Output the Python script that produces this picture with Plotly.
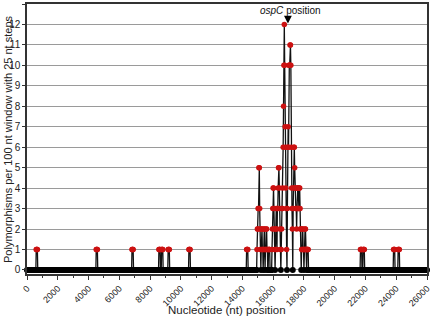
import plotly.graph_objects as go

# window starts (nt) with 25 nt steps across the plotted region
step = 25
window_end = 26000

# nonzero windows: (window start, polymorphism count)
nonzero_windows = [
    600, 625, 650, 675,
    4500, 4525, 4550, 4575,
    6825, 6850, 6875, 6900,
    8575, 8600, 8625, 8650,
    8750, 8775, 8800, 8825,
    9175, 9200, 9225, 9250,
    10525, 10550, 10575, 10600,
    14275, 14300, 14325, 14350,
    14950, 14975, 15000, 15025, 15050, 15075, 15100, 15125, 15150, 15175,
    15225, 15250, 15275, 15300, 15325,
    15375, 15400, 15425, 15450,
    15500, 15525, 15550, 15575, 15600, 15625,
    15700, 15725, 15750, 15775,
    15925, 15950, 15975, 16000, 16025, 16050, 16075, 16100,
    16150, 16175, 16200, 16225, 16250, 16275, 16300, 16325, 16350, 16375,
    16400, 16425, 16450, 16475,
    16525, 16550, 16575, 16600, 16625, 16650, 16675, 16700, 16725, 16750,
    16775, 16800, 16825, 16850, 16875,
    16925, 16950, 16975, 17000, 17025, 17050, 17075, 17100, 17125, 17150,
    17175, 17200, 17225, 17250,
    17300, 17325, 17350, 17375, 17400, 17425, 17450, 17475, 17500, 17525,
    17550, 17575, 17600, 17625, 17650, 17675, 17700, 17725, 17750, 17775, 17800,
    17850, 17875, 17900, 17925, 17950, 17975,
    18025, 18050, 18075, 18100, 18125, 18150,
    18200, 18225, 18250, 18275,
    21675, 21700, 21725, 21750,
    21850, 21875, 21900, 21925,
    23825, 23850, 23875, 23900,
    24125, 24150, 24175, 24200,
]
nonzero_counts = [
    1, 1, 1, 1,
    1, 1, 1, 1,
    1, 1, 1, 1,
    1, 1, 1, 1,
    1, 1, 1, 1,
    1, 1, 1, 1,
    1, 1, 1, 1,
    1, 1, 1, 1,
    1, 2, 2, 3, 3, 5, 5, 3, 2, 1,
    1, 2, 2, 1, 1,
    1, 2, 2, 1,
    1, 1, 2, 2, 1, 1,
    1, 1, 1, 1,
    1, 2, 3, 4, 4, 3, 2, 1,
    1, 2, 3, 2, 1, 3, 3, 4, 5, 5,
    4, 3, 2, 1,
    1, 2, 3, 3, 4, 6, 8, 10, 12, 10,
    7, 6, 4, 3, 1,
    3, 6, 7, 6, 10, 10, 10, 11, 11, 10,
    6, 4, 3, 2,
    3, 4, 6, 6, 5, 4, 4, 3, 3, 2,
    3, 4, 4, 4, 3, 3, 4, 4, 3, 2, 2,
    1, 1, 2, 2, 1, 1,
    1, 1, 2, 2, 1, 1,
    1, 1, 1, 1,
    1, 1, 1, 1,
    1, 1, 1, 1,
    1, 1, 1, 1,
    1, 1, 1, 1,
]

x_tick_values = [0, 2000, 4000, 6000, 8000, 10000, 12000, 14000, 16000,
                 18000, 20000, 22000, 24000, 26000]
y_tick_values = list(range(0, 14))

ospc_position = 16960
ospc_peak = 12

# build the full series (zeros between polymorphic windows)
counts_by_window = dict(zip(nonzero_windows, nonzero_counts))
positions = list(range(0, window_end + 1, step))
values = [counts_by_window.get(p, 0) for p in positions]

zero_x = [p for p, v in zip(positions, values) if v == 0]
zero_y = [0] * len(zero_x)
pos_x = [p for p, v in zip(positions, values) if v > 0]
pos_y = [v for v in values if v > 0]

fig = go.Figure()
fig.add_trace(go.Scatter(
    x=positions, y=values, mode="lines",
    line=dict(color="#111111", width=1.3),
    hoverinfo="skip", showlegend=False, cliponaxis=False,
))
fig.add_trace(go.Scatter(
    x=zero_x, y=zero_y, mode="markers",
    marker=dict(color="#000000", size=6, line=dict(width=0)),
    showlegend=False, cliponaxis=False,
))
fig.add_trace(go.Scatter(
    x=pos_x, y=pos_y, mode="markers",
    marker=dict(color="#cc1111", size=5.5, line=dict(width=0)),
    showlegend=False, cliponaxis=False,
))

font_family = "Liberation Sans, Arial, sans-serif"

fig.update_layout(
    width=432, height=321,
    margin=dict(l=27, r=5, t=4, b=47, autoexpand=False),
    paper_bgcolor="white", plot_bgcolor="white",
    font=dict(family=font_family, color="#222222"),
    xaxis=dict(
        range=[0, 26000], automargin=False,
        tickmode="array", tickvals=x_tick_values,
        ticktext=[str(v) for v in x_tick_values],
        tickangle=-45, tickfont=dict(size=9),
        ticks="outside", ticklen=4, tickcolor="#333333",
        minor=dict(dtick=1000, ticks="outside", ticklen=2, tickcolor="#333333"),
        showgrid=False, zeroline=False,
        showline=True, linecolor="#333333", linewidth=1.5, mirror=True,
    ),
    yaxis=dict(
        range=[-0.2, 13], automargin=False,
        tickmode="array", tickvals=y_tick_values,
        tickfont=dict(size=10),
        ticks="outside", ticklen=3, tickcolor="#333333",
        showgrid=True, gridcolor="#9a9a9a", gridwidth=1,
        zeroline=False,
        showline=True, linecolor="#333333", linewidth=1.5, mirror=True,
    ),
    annotations=[
        dict(x=ospc_position, y=ospc_peak + 0.05, xref="x", yref="y",
             text="", showarrow=True, ax=0, ay=-9,
             arrowhead=2, arrowsize=1.2, arrowwidth=1.3, arrowcolor="#000000",
             standoff=0),
        dict(x=17130, y=12.67, xref="x", yref="y",
             text="<i>ospC</i> position", showarrow=False,
             font=dict(size=10, color="#111111"), xanchor="center", yanchor="middle"),
        dict(x=-0.0475, y=0.5, xref="paper", yref="paper",
             text="Polymorphisms per 100 nt window with 25 nt steps",
             textangle=-90, showarrow=False, font=dict(size=11, color="#222222"),
             xanchor="center", yanchor="middle"),
        dict(x=0.5, y=-0.105, xref="paper", yref="paper",
             text="Nucleotide (nt) position", showarrow=False,
             font=dict(size=11.5, color="#222222"),
             xanchor="center", yanchor="top"),
    ],
)

fig.write_html(
    "out.html",
    config={"displayModeBar": False},
    post_script="document.body.style.margin='0';document.body.style.padding='0';",
)
